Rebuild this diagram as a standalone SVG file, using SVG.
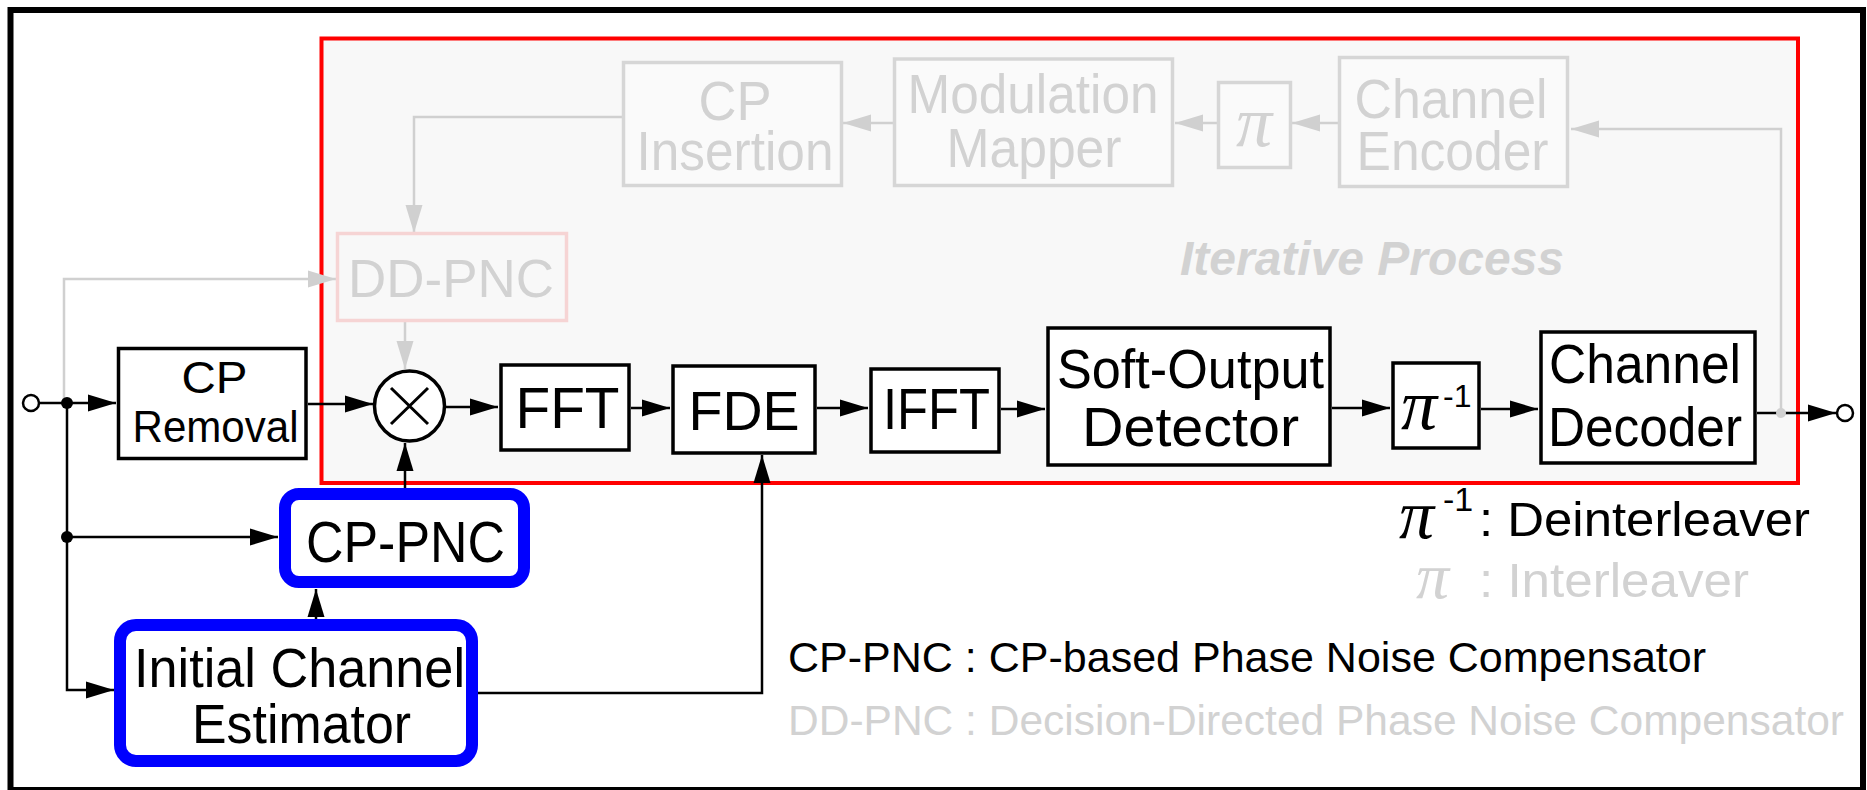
<svg xmlns="http://www.w3.org/2000/svg" width="1867" height="790" viewBox="0 0 1867 790">
  <defs>
    <marker id="ah" markerUnits="userSpaceOnUse" markerWidth="28" markerHeight="18" refX="28" refY="9" orient="auto">
      <path d="M0,0.5 L28,9 L0,17.5 z" fill="#000"/>
    </marker>
    <marker id="ahg" markerUnits="userSpaceOnUse" markerWidth="28" markerHeight="18" refX="28" refY="9" orient="auto">
      <path d="M0,0.5 L28,9 L0,17.5 z" fill="#d0d0d0"/>
    </marker>
    <style>
      text { font-family: "Liberation Sans", Arial, sans-serif; }
      .blk { fill: #000; }
      .gry { fill: #d2d2d2; }
      .box { fill: #fff; stroke: #000; stroke-width: 3.5; }
      .gbox { fill: #fafafa; stroke: #d6d6d6; stroke-width: 3.5; }
      .bbox { fill: #fff; stroke: #0000ff; stroke-width: 12; }
      .ln { fill: none; stroke: #000; stroke-width: 2.5; }
      .gln { fill: none; stroke: #d0d0d0; stroke-width: 2.5; }
      .pi { font-family: "Liberation Serif", "Times New Roman", serif; font-style: italic; }
      .c { text-anchor: middle; }
    </style>
  </defs>

  <!-- page -->
  <rect x="0" y="0" width="1867" height="790" fill="#fff"/>
  <rect x="10.5" y="10" width="1852.5" height="780" fill="none" stroke="#000" stroke-width="6"/>

  <!-- iterative process region -->
  <rect id="iterative-region" x="321.5" y="38.5" width="1476.5" height="444.5" fill="#f8f8f8" stroke="#ff0000" stroke-width="4"/>
  <text x="1180" y="275" font-size="48" font-weight="bold" font-style="italic" class="gry" textLength="384" lengthAdjust="spacingAndGlyphs">Iterative Process</text>

  <!-- connectors -->
  <g id="connectors">
    <!-- feedback path (grey) -->
    <path class="gln" d="M64,403 V279 H336" marker-end="url(#ahg)"/>
    <path class="gln" d="M622,117 H414 V233" marker-end="url(#ahg)"/>
    <line class="gln" x1="405" y1="322" x2="405" y2="369" marker-end="url(#ahg)"/>
    <line class="gln" x1="893" y1="123" x2="843" y2="123" marker-end="url(#ahg)"/>
    <line class="gln" x1="1217" y1="123" x2="1175" y2="123" marker-end="url(#ahg)"/>
    <line class="gln" x1="1338" y1="123" x2="1292" y2="123" marker-end="url(#ahg)"/>
    <path class="gln" d="M1781,413 V129 H1571" marker-end="url(#ahg)"/>

    <!-- forward path -->
    <line class="ln" x1="39" y1="403" x2="116" y2="403" marker-end="url(#ah)"/>
    <line class="ln" x1="308" y1="404" x2="373" y2="404" marker-end="url(#ah)"/>
    <line class="ln" x1="446" y1="407" x2="498" y2="407" marker-end="url(#ah)"/>
    <line class="ln" x1="631" y1="408" x2="670" y2="408" marker-end="url(#ah)"/>
    <line class="ln" x1="817" y1="408" x2="868" y2="408" marker-end="url(#ah)"/>
    <line class="ln" x1="1001" y1="409" x2="1045" y2="409" marker-end="url(#ah)"/>
    <line class="ln" x1="1332" y1="408" x2="1390" y2="408" marker-end="url(#ah)"/>
    <line class="ln" x1="1481" y1="409" x2="1538" y2="409" marker-end="url(#ah)"/>
    <line class="ln" x1="1757" y1="413" x2="1836" y2="413" marker-end="url(#ah)"/>

    <!-- estimator / compensator paths -->
    <line class="ln" x1="67" y1="537" x2="278" y2="537" marker-end="url(#ah)"/>
    <path class="ln" d="M67,403 V690 H114" marker-end="url(#ah)"/>
    <line class="ln" x1="316" y1="619" x2="316" y2="589" marker-end="url(#ah)"/>
    <line class="ln" x1="405" y1="488" x2="405" y2="443" marker-end="url(#ah)"/>
    <path class="ln" d="M478,693 H762 V455" marker-end="url(#ah)"/>

    <!-- terminals and branch points -->
    <circle cx="31" cy="403" r="8" fill="#fff" stroke="#000" stroke-width="2.5"/>
    <circle cx="67" cy="403" r="6" fill="#000"/>
    <circle cx="67" cy="537" r="6" fill="#000"/>
    <circle cx="1781" cy="413" r="5" fill="#d0d0d0"/>
    <circle cx="1845" cy="413" r="8" fill="#fff" stroke="#000" stroke-width="2.5"/>
  </g>

  <!-- transmitter replica (grey) -->
  <g id="cp-insertion">
    <rect class="gbox" x="623.5" y="62.5" width="218" height="123"/>
    <text x="735" y="120" font-size="56" class="gry c" textLength="73" lengthAdjust="spacingAndGlyphs">CP</text>
    <text x="735" y="170" font-size="56" class="gry c" textLength="197" lengthAdjust="spacingAndGlyphs">Insertion</text>
  </g>
  <g id="modulation-mapper">
    <rect class="gbox" x="894.5" y="59" width="278" height="126.5"/>
    <text x="1033" y="113" font-size="56" class="gry c" textLength="251" lengthAdjust="spacingAndGlyphs">Modulation</text>
    <text x="1034" y="167" font-size="56" class="gry c" textLength="175" lengthAdjust="spacingAndGlyphs">Mapper</text>
  </g>
  <g id="interleaver">
    <rect class="gbox" x="1218.5" y="82.5" width="72" height="85"/>
    <text x="1254" y="146" font-size="72" class="gry c pi">π</text>
  </g>
  <g id="channel-encoder">
    <rect class="gbox" x="1339.5" y="57.5" width="228" height="129"/>
    <text x="1451" y="118" font-size="56" class="gry c" textLength="193" lengthAdjust="spacingAndGlyphs">Channel</text>
    <text x="1452.5" y="170" font-size="56" class="gry c" textLength="192" lengthAdjust="spacingAndGlyphs">Encoder</text>
  </g>
  <g id="dd-pnc">
    <rect x="337.5" y="233.5" width="229" height="87" fill="#f8f8f8" stroke="#f6d4d4" stroke-width="3.5"/>
    <text x="451" y="297" font-size="53" class="gry c" textLength="206" lengthAdjust="spacingAndGlyphs">DD-PNC</text>
  </g>

  <!-- receiver chain -->
  <g id="cp-removal">
    <rect class="box" x="118.5" y="348.5" width="187.5" height="110"/>
    <text x="214.5" y="393" font-size="44" class="blk c" textLength="66" lengthAdjust="spacingAndGlyphs">CP</text>
    <text x="215.5" y="442" font-size="44" class="blk c" textLength="166" lengthAdjust="spacingAndGlyphs">Removal</text>
  </g>
  <g id="multiplier">
    <circle cx="409.5" cy="406" r="35" fill="#fff" stroke="#000" stroke-width="3.5"/>
    <path d="M391,388 L428,424 M428,388 L391,424" stroke="#000" stroke-width="3" fill="none"/>
  </g>
  <g id="fft">
    <rect class="box" x="501" y="365" width="128" height="85"/>
    <text x="567.5" y="428" font-size="58" class="blk c" textLength="104" lengthAdjust="spacingAndGlyphs">FFT</text>
  </g>
  <g id="fde">
    <rect class="box" x="673" y="366" width="142" height="87"/>
    <text x="744" y="430" font-size="56" class="blk c" textLength="111" lengthAdjust="spacingAndGlyphs">FDE</text>
  </g>
  <g id="ifft">
    <rect class="box" x="871" y="369" width="128" height="83"/>
    <text x="936.5" y="429" font-size="58" class="blk c" textLength="107" lengthAdjust="spacingAndGlyphs">IFFT</text>
  </g>
  <g id="soft-output-detector">
    <rect class="box" x="1048" y="328" width="282" height="137"/>
    <text x="1190.5" y="388" font-size="56" class="blk c" textLength="267" lengthAdjust="spacingAndGlyphs">Soft-Output</text>
    <text x="1190.5" y="446" font-size="56" class="blk c" textLength="217" lengthAdjust="spacingAndGlyphs">Detector</text>
  </g>
  <g id="deinterleaver">
    <rect class="box" x="1393" y="363" width="86" height="85"/>
    <text class="blk"><tspan x="1401" y="429" font-size="72" class="pi">π</tspan><tspan x="1443" y="407" font-size="32">-1</tspan></text>
  </g>
  <g id="channel-decoder">
    <rect class="box" x="1541" y="332" width="214" height="131"/>
    <text x="1645" y="383" font-size="56" class="blk c" textLength="192" lengthAdjust="spacingAndGlyphs">Channel</text>
    <text x="1645" y="446" font-size="56" class="blk c" textLength="194" lengthAdjust="spacingAndGlyphs">Decoder</text>
  </g>

  <!-- highlighted blocks -->
  <g id="cp-pnc">
    <rect class="bbox" x="285" y="494" width="239" height="88" rx="14"/>
    <text x="405.5" y="562" font-size="58" class="blk c" textLength="199" lengthAdjust="spacingAndGlyphs">CP-PNC</text>
  </g>
  <g id="initial-channel-estimator">
    <rect class="bbox" x="120" y="625" width="352" height="136" rx="16"/>
    <text x="299.5" y="687" font-size="56" class="blk c" textLength="331" lengthAdjust="spacingAndGlyphs">Initial Channel</text>
    <text x="301.5" y="743" font-size="56" class="blk c" textLength="219" lengthAdjust="spacingAndGlyphs">Estimator</text>
  </g>

  <!-- legend -->
  <g id="legend">
    <text class="blk"><tspan x="1399" y="538" font-size="70" class="pi">π</tspan><tspan x="1443" y="511" font-size="34">-1</tspan></text>
    <text x="1479" y="536" font-size="49" class="blk" textLength="331" lengthAdjust="spacingAndGlyphs">: Deinterleaver</text>
    <text x="1416" y="598" font-size="66" class="gry pi">π</text>
    <text x="1479" y="597" font-size="49" class="gry" textLength="270" lengthAdjust="spacingAndGlyphs">: Interleaver</text>
    <text x="788" y="672" font-size="43" class="blk" textLength="918" lengthAdjust="spacingAndGlyphs">CP-PNC : CP-based Phase Noise Compensator</text>
    <text x="788" y="735" font-size="43" class="gry" textLength="1056" lengthAdjust="spacingAndGlyphs">DD-PNC : Decision-Directed Phase Noise Compensator</text>
  </g>
</svg>
